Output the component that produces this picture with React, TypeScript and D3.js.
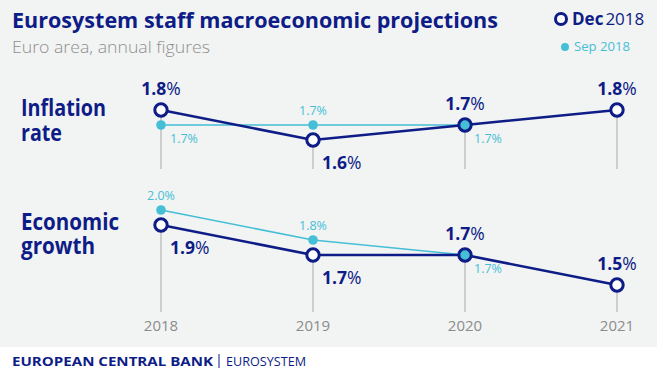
import React, { useEffect } from 'react'
import * as d3 from 'd3'

const years = ['2018', '2019', '2020', '2021']
const inflationDec = [1.8, 1.6, 1.7, 1.8]
const inflationSep = [1.7, 1.7, 1.7]
const growthDec = [1.9, 1.7, 1.7, 1.5]
const growthSep = [2.0, 1.8, 1.7]

// where each value label sits: a = above, r = below right
const inflationDecPos = ['a', 'r', 'a', 'a']
const inflationSepPos = ['r', 'a', 'r']
const growthDecPos = ['r', 'r', 'a', 'a']
const growthSepPos = ['a', 'a', 'r']

const W = 657
const H = 370
const navy = '#0d1c86'
const teal = '#45bfd6'
const font = '"Open Sans", sans-serif'

function Panel({ dec, sep, decPos, sepPos, y, bottom }) {
  const x = d3.scalePoint().domain(years).range([161, 617])
  const line = d3.line<number>().x((d, i) => x(years[i])).y(d => y(d))
  return (
    <g>
      {dec.map((v, i) => (
        <line key={'g' + i} x1={x(years[i])} x2={x(years[i])} y1={y(v)} y2={bottom} stroke="#b5b5b5" strokeWidth={1.2} />
      ))}
      <path d={line(sep)} fill="none" stroke={teal} strokeWidth={1.6} />
      <path d={line(dec)} fill="none" stroke={navy} strokeWidth={2.6} />
      {sep.map((v, i) => (
        <circle key={'s' + i} cx={x(years[i])} cy={y(v)} r={4.8} fill={teal} />
      ))}
      {dec.map((v, i) => {
        const under = sep[i] !== undefined && sep[i] === v
        return <circle key={'d' + i} cx={x(years[i])} cy={y(v)} r={6.2} fill={under ? teal : 'white'} stroke={navy} strokeWidth={3} />
      })}
      {sep.map((v, i) => {
        const cx = x(years[i])
        const cy = y(v)
        const above = sepPos[i] === 'a'
        return (
          <text key={'sl' + i} x={above ? cx : cx + 9} y={above ? cy - 10 : cy + 18} textAnchor={above ? 'middle' : 'start'}
            fill={teal} fontSize={12.5} fontFamily={font}>{d3.format('.1f')(v)}%</text>
        )
      })}
      {dec.map((v, i) => {
        const cx = x(years[i])
        const cy = y(v)
        const above = decPos[i] === 'a'
        return (
          <text key={'dl' + i} x={above ? cx : cx + 9} y={above ? cy - 15 : cy + 29} textAnchor={above ? 'middle' : 'start'}
            fill={navy} fontSize={17.5} fontFamily={font}>
            <tspan fontWeight={700}>{d3.format('.1f')(v)}</tspan><tspan>%</tspan>
          </text>
        )
      })}
    </g>
  )
}

export default function App() {
  useEffect(() => {
    document.body.style.margin = '0'
  }, [])

  const x = d3.scalePoint().domain(years).range([161, 617])
  const yInf = d3.scaleLinear().domain([1.6, 1.8]).range([140, 110])
  const yGro = d3.scaleLinear().domain([1.5, 1.9]).range([285, 225])

  return (
    <svg width={W} height={H} style={{ display: 'block' }}>
      <rect x={0} y={0} width={W} height={347} fill="#f2f3f3" />
      <rect x={0} y={347} width={W} height={H - 347} fill="#ffffff" />

      <text x={12} y={28} fill={navy} fontSize={22} fontWeight={700} fontFamily={font} textLength={486} lengthAdjust="spacingAndGlyphs">
        Eurosystem staff macroeconomic projections
      </text>
      <text x={12} y={53} fill="#8f8f8f" fontSize={17} fontWeight={300} fontFamily={font} textLength={198} lengthAdjust="spacingAndGlyphs">
        Euro area, annual figures
      </text>

      <circle cx={561} cy={19} r={5.5} fill="white" stroke={navy} strokeWidth={3} />
      <text x={572} y={25} fill={navy} fontSize={17} fontFamily={font}>
        <tspan fontWeight={700}>Dec</tspan><tspan dx={2}>2018</tspan>
      </text>
      <circle cx={565} cy={47} r={4} fill={teal} />
      <text x={574} y={51} fill={teal} fontSize={12.5} fontFamily={font} textLength={56} lengthAdjust="spacingAndGlyphs">Sep 2018</text>

      <text x={21} y={116} fill={navy} fontSize={23} fontWeight={700} fontFamily={font} textLength={85} lengthAdjust="spacingAndGlyphs">Inflation</text>
      <text x={21} y={141} fill={navy} fontSize={23} fontWeight={700} fontFamily={font} textLength={41} lengthAdjust="spacingAndGlyphs">rate</text>
      <text x={21} y={230} fill={navy} fontSize={23} fontWeight={700} fontFamily={font} textLength={98} lengthAdjust="spacingAndGlyphs">Economic</text>
      <text x={21} y={254} fill={navy} fontSize={23} fontWeight={700} fontFamily={font} textLength={74} lengthAdjust="spacingAndGlyphs">growth</text>

      <Panel dec={inflationDec} sep={inflationSep} decPos={inflationDecPos} sepPos={inflationSepPos} y={yInf} bottom={169} />
      <Panel dec={growthDec} sep={growthSep} decPos={growthDecPos} sepPos={growthSepPos} y={yGro} bottom={312} />

      {years.map(yr => (
        <text key={yr} x={x(yr)} y={331} textAnchor="middle" fill="#8c8c8c" fontSize={15} fontFamily={font}>{yr}</text>
      ))}

      <text x={12} y={366} fill={navy} fontSize={12} fontWeight={700} fontFamily={font} textLength={201} lengthAdjust="spacingAndGlyphs">
        EUROPEAN CENTRAL BANK
      </text>
      <line x1={219} x2={219} y1={354} y2={368} stroke={navy} strokeWidth={1} />
      <text x={226} y={366} fill={navy} fontSize={12} fontFamily={font} textLength={80} lengthAdjust="spacingAndGlyphs">EUROSYSTEM</text>
    </svg>
  )
}
